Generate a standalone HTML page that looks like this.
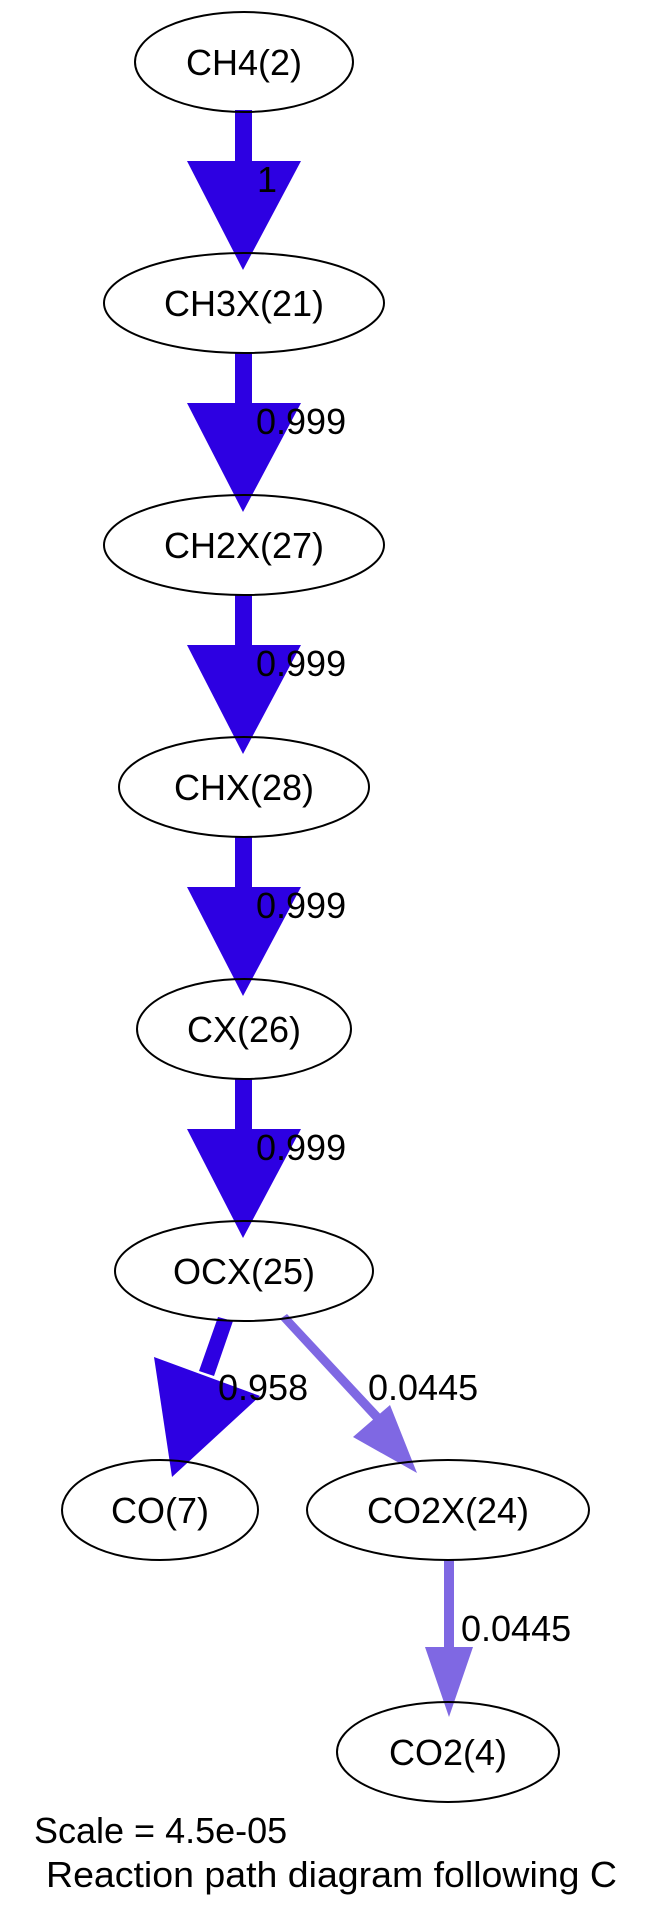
<!DOCTYPE html>
<html><head><meta charset="utf-8"><style>
html,body{margin:0;padding:0;background:#fff;}
svg{display:block;}
text{font-family:"Liberation Sans",Arial,sans-serif;font-size:36px;fill:#000;}
</style></head><body>
<svg width="653" height="1919" viewBox="0 0 653 1919" xmlns="http://www.w3.org/2000/svg">
<g fill="#2d00e2">
  <!-- vertical edges -->
  <rect x="235" y="110" width="17" height="52"/><polygon points="187,161 301,161 243,270"/>
  <rect x="235" y="352" width="17" height="52"/><polygon points="187,403 301,403 243,512"/>
  <rect x="235" y="594" width="17" height="52"/><polygon points="187,645 301,645 243,754"/>
  <rect x="235" y="836" width="17" height="52"/><polygon points="187,887 301,887 243,996"/>
  <rect x="235" y="1078" width="17" height="52"/><polygon points="187,1129 301,1129 243,1238"/>
  <!-- OCX -> CO -->
  <polygon points="218,1317 233,1321 214,1376 199,1371"/>
  <polygon points="154,1357 260,1396 172,1477"/>
</g>
<g fill="#7f68e3">
  <polygon points="280,1319 287,1314 385,1419 378,1425"/>
  <polygon points="353,1437 390,1405 417,1473"/>
  <rect x="444" y="1560" width="10" height="88"/>
  <polygon points="425,1647 473,1647 449,1717"/>
</g>
<g fill="none" stroke="#000" stroke-width="2">
  <ellipse cx="244" cy="62" rx="109" ry="50"/>
  <ellipse cx="244" cy="303" rx="140" ry="50"/>
  <ellipse cx="244" cy="545" rx="140" ry="50"/>
  <ellipse cx="244" cy="787" rx="125" ry="50"/>
  <ellipse cx="244" cy="1029" rx="107" ry="50"/>
  <ellipse cx="244" cy="1271" rx="129" ry="50"/>
  <ellipse cx="160" cy="1510" rx="98" ry="50"/>
  <ellipse cx="448" cy="1510" rx="141" ry="50"/>
  <ellipse cx="448" cy="1752" rx="111" ry="50"/>
</g>
<g text-anchor="middle">
  <text x="244" y="75">CH4(2)</text>
  <text x="244" y="316">CH3X(21)</text>
  <text x="244" y="558">CH2X(27)</text>
  <text x="244" y="800">CHX(28)</text>
  <text x="244" y="1042">CX(26)</text>
  <text x="244" y="1284">OCX(25)</text>
  <text x="160" y="1523">CO(7)</text>
  <text x="448" y="1523">CO2X(24)</text>
  <text x="448" y="1765">CO2(4)</text>
</g>
<text x="257" y="192">1</text>
<text x="256" y="434">0.999</text>
<text x="256" y="676">0.999</text>
<text x="256" y="918">0.999</text>
<text x="256" y="1160">0.999</text>
<text x="218" y="1400">0.958</text>
<text x="368" y="1400">0.0445</text>
<text x="461" y="1641">0.0445</text>
<text x="34" y="1843">Scale = 4.5e-05</text>
<text x="46" y="1887" textLength="571" lengthAdjust="spacingAndGlyphs">Reaction path diagram following C</text>
</svg>
</body></html>
